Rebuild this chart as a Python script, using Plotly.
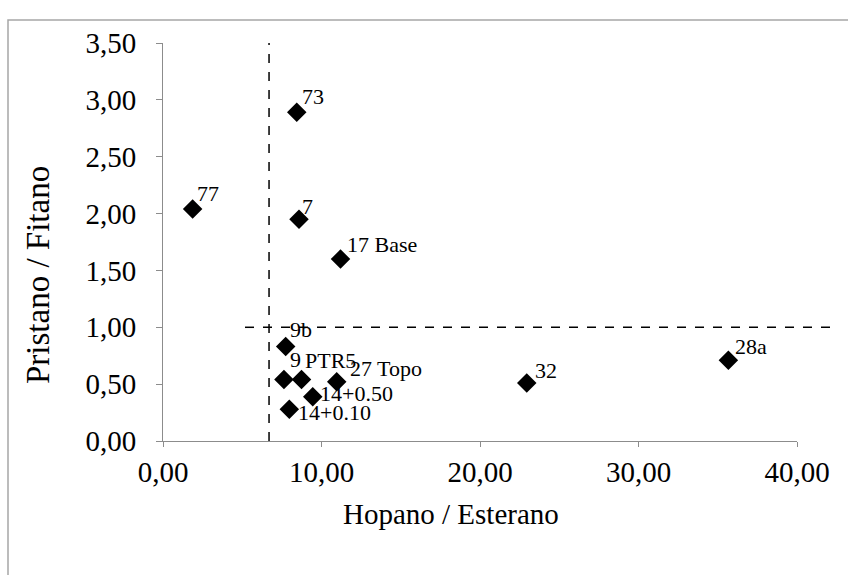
import plotly.graph_objects as go

# Sample ratios
samples = ["77", "73", "7", "17 Base", "9b", "9", "PTR5", "27 Topo",
           "14+0.50", "14+0.10", "32", "28a"]
hopano_esterano = [1.87, 8.44, 8.58, 11.2, 7.74, 7.63, 8.74, 10.96,
                   9.45, 7.97, 22.95, 35.67]
pristano_fitano = [2.04, 2.89, 1.95, 1.60, 0.83, 0.54, 0.54, 0.52,
                   0.39, 0.28, 0.51, 0.71]

x_ticks = [0, 10, 20, 30, 40]
x_tick_text = ["0,00", "10,00", "20,00", "30,00", "40,00"]
y_ticks = [0, 0.5, 1.0, 1.5, 2.0, 2.5, 3.0, 3.5]
y_tick_text = ["0,00", "0,50", "1,00", "1,50", "2,00", "2,50", "3,00", "3,50"]

# Threshold lines
hopano_cut = 6.69
pristano_cut = 1.0

# Pixel offsets (right, up) of each sample label from its marker
label_offset = {
    "77": (2, 16), "73": (3, 16), "7": (1, 13), "17 Base": (4, 15),
    "9b": (2, 17), "9": (4, 20), "PTR5": (1, 19), "27 Topo": (11, 13),
    "14+0.50": (5, 3), "14+0.10": (7, -3), "32": (6, 13), "28a": (5, 14),
}

W, H = 848, 575
L, R, T, B = 163, 51, 43, 134
pw, ph = W - L - R, H - T - B

def px_x(p):
    return (p - L) / pw

def px_y(p):
    return (H - B - p) / ph

font = "Liberation Serif"
axis_col = "#8c8c8c"
tick_size = 29
label_size = 22

fig = go.Figure()
fig.add_trace(go.Scatter(
    x=hopano_esterano, y=pristano_fitano, mode="markers",
    marker=dict(symbol="diamond", size=15, color="black"),
    cliponaxis=False, showlegend=False,
))

annotations = [
    dict(x=xv, y=yv, xref="x", yref="y", text=s, showarrow=False,
         xanchor="left", yanchor="middle",
         xshift=label_offset[s][0], yshift=label_offset[s][1],
         font=dict(family=font, size=label_size, color="black"))
    for s, xv, yv in zip(samples, hopano_esterano, pristano_fitano)
]
# Axis titles, centred on the chart area rather than the plot box
annotations += [
    dict(x=px_x(451), y=px_y(514), xref="paper", yref="paper",
         text="Hopano / Esterano", showarrow=False,
         xanchor="center", yanchor="middle",
         font=dict(family=font, size=29, color="black")),
    dict(x=px_x(38), y=px_y(275), xref="paper", yref="paper",
         text="Pristano / Fitano", showarrow=False, textangle=-90,
         xanchor="center", yanchor="middle",
         font=dict(family=font, size=33, color="black")),
]

shapes = [
    # vertical cut-off
    dict(type="line", xref="x", yref="y", x0=hopano_cut, x1=hopano_cut,
         y0=0, y1=3.5, line=dict(color="black", width=1.5, dash="dash")),
    # horizontal cut-off, running past the axis end
    dict(type="line", xref="paper", yref="y", x0=px_x(245), x1=px_x(836),
         y0=pristano_cut, y1=pristano_cut,
         line=dict(color="black", width=1.5, dash="dash")),
    # chart frame
    dict(type="rect", xref="paper", yref="paper", x0=px_x(8), x1=px_x(860),
         y0=px_y(590), y1=px_y(20), line=dict(color="#a6a6a6", width=1.5),
         layer="below"),
]

fig.update_layout(
    width=W, height=H,
    margin=dict(l=L, r=R, t=T, b=B),
    paper_bgcolor="white", plot_bgcolor="white",
    font=dict(family=font, size=tick_size, color="black"),
    shapes=shapes, annotations=annotations,
    xaxis=dict(
        range=[0, 40], tickvals=x_ticks, ticktext=x_tick_text,
        showgrid=False, zeroline=False, showline=True, linecolor=axis_col,
        linewidth=1, ticks="outside", ticklen=5, tickcolor=axis_col,
        tickfont=dict(family=font, size=tick_size), ticklabelstandoff=0,
    ),
    yaxis=dict(
        range=[0, 3.5], tickvals=y_ticks, ticktext=y_tick_text,
        showgrid=False, zeroline=False, showline=True, linecolor=axis_col,
        linewidth=1, ticks="outside", ticklen=6, tickcolor=axis_col,
        tickfont=dict(family=font, size=tick_size), ticklabelstandoff=14,
    ),
)

fig.write_html("out.html")
